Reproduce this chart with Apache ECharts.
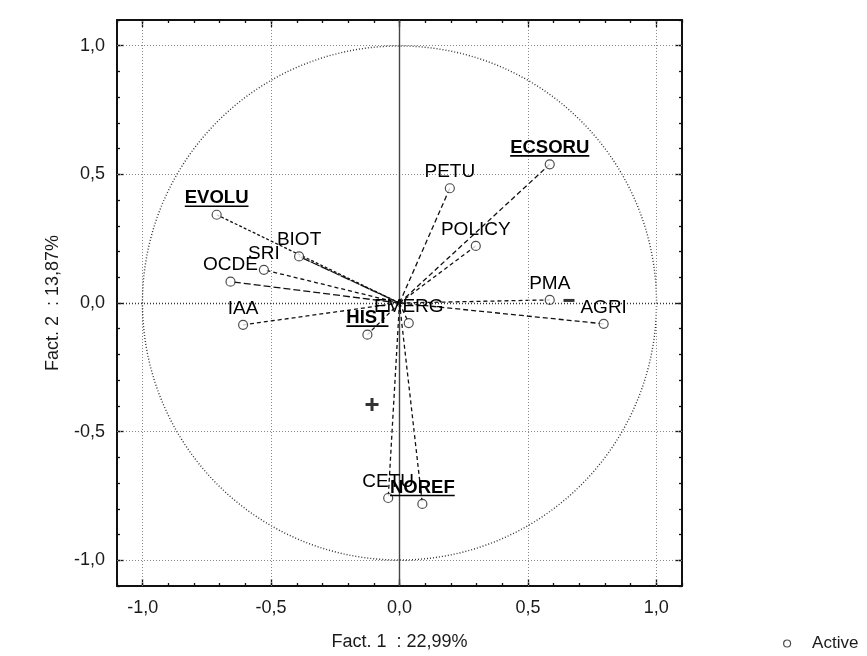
<!DOCTYPE html>
<html>
<head>
<meta charset="utf-8">
<script src="https://cdn.jsdelivr.net/npm/echarts@6/dist/echarts.min.js"></script>
<style>html,body{margin:0;padding:0;background:#fff;}#main{width:867px;height:656px;}</style>
</head>
<body>
<div id="main"></div>
<script>
// ---- data ----
const varNames   = ['EVOLU','BIOT','SRI','OCDE','IAA','HIST','EMERG','ECSORU','PETU','POLICY','PMA','AGRI','CETU','NOREF'];
const fact1      = [-0.712,-0.391,-0.528,-0.658,-0.609,-0.125,0.036,0.585,0.196,0.297,0.585,0.795,-0.044,0.089];
const fact2      = [0.343,0.181,0.129,0.083,-0.085,-0.123,-0.078,0.539,0.446,0.222,0.012,-0.081,-0.758,-0.781];
const underlined = ['EVOLU','ECSORU','HIST','NOREF'];
const plusMark   = [-0.107,-0.395];
const minusMark  = [0.660,0.010];
const tickValues = [-1,-0.5,0,0.5,1];
const xTitle = 'Fact. 1  : 22,99%';
const yTitle = 'Fact. 2  : 13,87%';
const legendName = 'Active';

// ---- styles ----
const FONT = '"Liberation Sans", Arial, sans-serif';
const dashStyles = {EVOLU:[3,2],BIOT:[10,1],SRI:[4,3],OCDE:[7,3],IAA:[4,3],HIST:[4,3],EMERG:[4,3],
  ECSORU:[5,3],PETU:[5,3],POLICY:[4,3],PMA:[4,3],AGRI:[5,3],CETU:[4,3],NOREF:[4,3]};

const pts = varNames.map((n,i)=>[fact1[i],fact2[i]]);

const ctx = document.createElement('canvas').getContext('2d');
function measure(t,font){ctx.font=font;return ctx.measureText(t).width;}
const fmt = v => (Math.abs(v)<1e-9?0:v).toFixed(1).replace('.',',');

function mkAxis(pos, major, withLabel, name, nameGap){
  const a = {
    type:'value', position:pos, min:-1.1, max:1.1, interval:0.1,
    axisLine:{show:!major, onZero:false, lineStyle:{color:'#111', width:2}},
    axisTick:{show:true, inside:true, length: major?7:3, lineStyle:{color:'#111', width:1.3}},
    axisLabel:{show:false},
    splitLine:{show:false}
  };
  if (major) a.axisTick.customValues = tickValues;
  if (withLabel) {
    a.axisLabel = {show:true, customValues:tickValues, formatter:fmt, fontSize:18, color:'#1a1a1a', fontFamily:FONT,
      margin: (pos==='bottom')?13:12};
    a.name = name; a.nameLocation='middle'; a.nameGap=nameGap;
    a.nameTextStyle = {fontSize:18, color:'#1a1a1a', fontFamily:FONT};
  }
  return a;
}

const chart = echarts.init(document.getElementById('main'), null, {renderer:'canvas'});
const option = {
  backgroundColor:'#fff',
  animation:false,
  grid:{left:117, top:20, width:565, height:566, containLabel:false},
  xAxis:[
    mkAxis('bottom', false, true, xTitle, 47),
    mkAxis('bottom', true, false),
    mkAxis('top', false, false),
    mkAxis('top', true, false)
  ],
  yAxis:[
    mkAxis('left', false, true, yTitle, 55),
    mkAxis('left', true, false),
    mkAxis('right', false, false),
    mkAxis('right', true, false)
  ],
  legend:{
    data:[{name:legendName, icon:'circle'}],
    left:778, top:630, itemWidth:40, itemHeight:7, symbolKeepAspect:true,
    itemStyle:{color:'#fff', borderColor:'#222', borderWidth:1.2},
    textStyle:{fontSize:17, color:'#1a1a1a', fontFamily:FONT}
  },
  series:[
    { // unit circle + reference lines
      type:'custom', name:'circle', silent:true, z:1,
      data:[[0,0]],
      renderItem:(params, api)=>{
        const c = api.coord([0,0]);
        const s = api.size([1,1]);
        return {type:'circle', shape:{cx:c[0], cy:c[1], r:(s[0]+s[1])/2},
          style:{fill:'none', stroke:'#333', lineWidth:1.4, lineDash:[1,2]}};
      },
      markLine:{
        silent:true, symbol:'none', label:{show:false},
        lineStyle:{color:'#888', type:[1,2], width:1},
        data:[
          {xAxis:-1},{xAxis:-0.5},{xAxis:0.5},{xAxis:1},
          {yAxis:-1},{yAxis:-0.5},{yAxis:0.5},{yAxis:1},
          {yAxis:0, lineStyle:{color:'#333', type:[1,2], width:1.4}},
          {xAxis:0, lineStyle:{color:'#444', type:'solid', width:1.4}}
        ]
      }
    },
    { // vectors from origin
      type:'custom', name:'vectors', silent:true, z:2,
      data:pts,
      renderItem:(params, api)=>{
        const o = api.coord([0,0]);
        const p = api.coord([api.value(0), api.value(1)]);
        return {type:'line', shape:{x1:o[0], y1:o[1], x2:p[0], y2:p[1]},
          style:{stroke:'#111', lineWidth:1.3, lineDash:dashStyles[varNames[params.dataIndex]]}};
      }
    },
    { // points
      type:'scatter', name:legendName, z:4,
      data:pts, symbol:'circle', symbolSize:9,
      itemStyle:{color:'#fff', borderColor:'#222', borderWidth:1.2}
    },
    { // labels
      type:'custom', name:'labels', silent:true, z:5,
      data:pts,
      renderItem:(params, api)=>{
        const name = varNames[params.dataIndex];
        const p = api.coord([api.value(0), api.value(1)]);
        const ul = underlined.indexOf(name) >= 0;
        const font = ul ? ('bold 18.5px ' + FONT) : ('19px ' + FONT);
        const children = [{type:'text', x:p[0], y:p[1]-7,
          style:{text:name, font:font, fill:'#000', align:'center', verticalAlign:'bottom'}}];
        if (ul) {
          const w = measure(name, font);
          children.push({type:'line', shape:{x1:p[0]-w/2, y1:p[1]-8.5, x2:p[0]+w/2, y2:p[1]-8.5},
            style:{stroke:'#000', lineWidth:1.6}});
        }
        return {type:'group', children:children};
      }
    },
    { // + and - marks
      type:'scatter', name:'marks', silent:true, z:5,
      data:[
        {value:plusMark, symbol:'path://M5,0h3v5h5v3h-5v5h-3v-5h-5v-3h5z', symbolSize:13},
        {value:minusMark, symbol:'rect', symbolSize:[11,3]}
      ],
      itemStyle:{color:'#000'}
    }
  ]
};
chart.setOption(option);
</script>
</body>
</html>
